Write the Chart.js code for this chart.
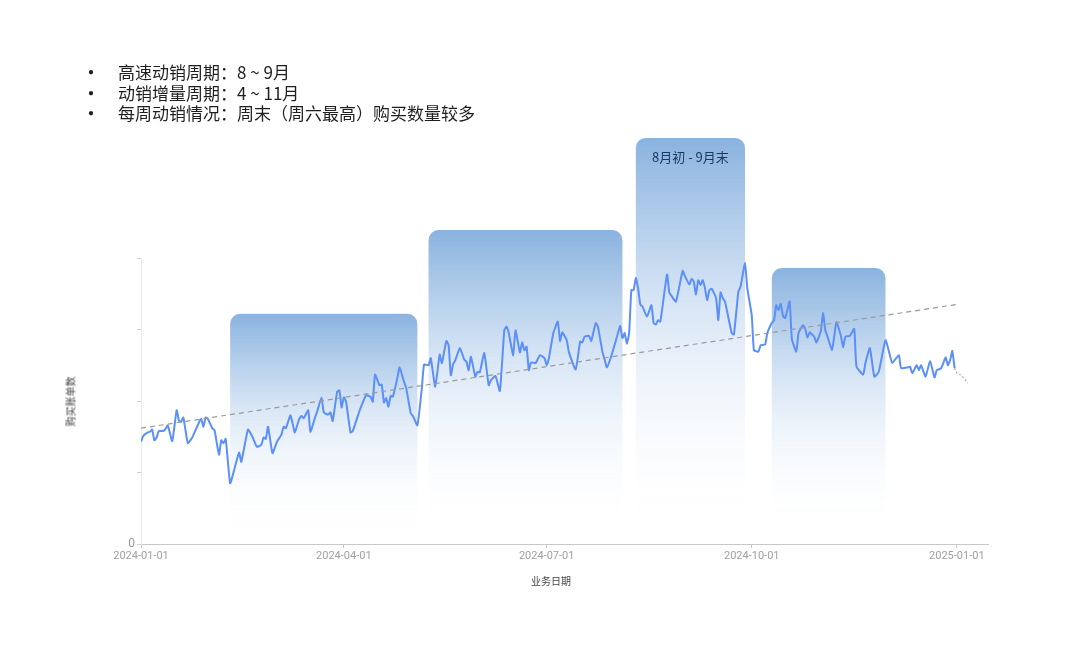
<!DOCTYPE html>
<html>
<head>
<meta charset="utf-8">
<script src="https://cdn.jsdelivr.net/npm/chart.js@4.4.1/dist/chart.umd.min.js"></script>
<style>
  body { margin: 0; background: #fff; font-family: "Noto Sans CJK SC", "Noto Sans", sans-serif; }
  #wrap { position: relative; width: 1080px; height: 653px; }
  .note { position: absolute; font-size: 17px; line-height: 20px; color: #1f1f1f; white-space: nowrap; }
  .dot { position: absolute; left: 81px; font-size: 20px; line-height: 20px; color: #1f1f1f; }
  .axis-title { position: absolute; font-size: 10px; color: #444; white-space: nowrap; }
</style>
</head>
<body>
<div id="wrap">
  <canvas id="salesChart"></canvas>
  <span class="dot" style="top:62px">•</span><div class="note" style="left:118px; top:62px">高速动销周期：8 ~ 9月</div>
  <span class="dot" style="top:83px">•</span><div class="note" style="left:118px; top:83px">动销增量周期：4 ~ 11月</div>
  <span class="dot" style="top:103px">•</span><div class="note" style="left:118px; top:103px">每周动销情况：周末（周六最高）购买数量较多</div>
  <div class="axis-title" style="left:45px; top:394px; transform: rotate(-90deg);">购买账单数</div>
  <div class="axis-title" style="left:531px; top:573px;">业务日期</div>
</div>
<script>
// ---- data (x = days since 2024-01-01) ----
const dayIdx = [0,1,3,4,5,6,7,8,10,11,12,14,16,17,18,19,21,23,26,27,28,29,30,32,33,35,36,37,38,40,42,44,45,48,50,52,54,55,56,57,59,61,63,64,65,67,68,69,71,72,73,75,76,78,79,81,82,84,85,86,88,89,90,91,92,94,95,98,99,101,103,104,105,107,108,109,110,111,112,113,115,116,118,119,121,122,124,126,127,129,130,132,134,135,137,138,139,140,141,143,144,145,146,147,148,150,151,152,154,156,157,159,161,163,164,165,167,168,170,171,172,173,174,175,177,179,181,182,183,185,187,188,189,191,192,195,197,198,199,201,202,204,205,207,208,209,211,214,215,216,217,218,219,220,221,222,223,224,225,227,229,230,231,232,233,236,237,238,240,243,244,246,247,248,249,250,251,252,253,254,255,256,258,259,260,261,262,265,266,268,269,271,272,274,275,277,278,280,281,283,284,285,286,287,288,289,291,292,294,295,297,298,299,300,302,303,305,306,307,308,310,311,312,314,315,316,318,320,321,324,325,327,329,331,334,336,337,340,341,344,345,346,348,349,350,352,354,356,357,359,361,362,363,364,365];
const buyCount = [143,151,156,157,160,145,149,158,158,161,166,144,187,173,171,177,141,149,170,175,164,177,175,162,159,125,145,141,147,85,106,128,115,160,150,136,139,149,147,164,127,143,153,164,162,180,169,156,175,179,176,187,157,176,185,205,184,181,184,172,213,215,191,205,199,156,158,186,194,208,206,199,237,222,223,198,204,192,207,206,232,247,227,218,183,179,166,218,251,250,260,220,265,253,284,278,236,251,257,274,267,258,255,243,262,234,241,240,267,222,229,235,214,299,304,295,264,299,268,282,271,276,243,254,253,264,260,250,260,295,311,284,296,285,268,244,283,282,290,291,284,309,304,269,258,247,263,295,305,288,295,280,295,355,355,372,358,335,332,318,334,309,307,313,311,377,352,347,339,382,375,363,371,367,349,369,362,369,358,341,355,357,344,313,352,344,339,295,293,353,360,393,358,320,271,269,278,279,295,309,313,334,327,336,319,316,339,287,269,295,306,301,289,296,290,282,298,323,299,290,271,290,311,291,275,290,291,301,248,237,253,274,234,241,285,264,253,264,246,247,248,239,250,243,250,234,256,233,243,246,261,250,257,270,246];
// unfinished days after year end (dashed)
const tailDays = [365,366,368,371];
const tailCount = [246,239,236,225];
// trend line
const trendDays = [0,366];
const trendCount = [162,335];
// highlighted periods
const periodStart = [40,129,222,283];
const periodEnd = [124,216,271,334];
const periodTop = [322,439,568,386];
const periodLabel = ['','','8月初 - 9月末',''];
// axis ticks
const tickDays = [0,91,182,274,366];
const tickLabels = ['2024-01-01','2024-04-01','2024-07-01','2024-10-01','2025-01-01'];
const yTicks = [0,100,200,300,400];

const toPoints = (xs, ys) => xs.map((d, i) => ({ x: d, y: ys[i] }));

// gradient boxes behind the line
const periodPlugin = {
  id: 'periodBoxes',
  beforeDatasetsDraw(chart) {
    const { ctx, scales: { x, y } } = chart;
    const bottom = y.getPixelForValue(20);
    periodStart.forEach((s, i) => {
      const l = x.getPixelForValue(s);
      const r = x.getPixelForValue(periodEnd[i]);
      const t = y.getPixelForValue(periodTop[i]);
      const g = ctx.createLinearGradient(0, t, 0, bottom);
      g.addColorStop(0, 'rgba(138,179,223,1)');
      g.addColorStop(0.4, 'rgba(207,224,243,0.9)');
      g.addColorStop(1, 'rgba(255,255,255,0)');
      ctx.save();
      ctx.fillStyle = g;
      ctx.beginPath();
      ctx.roundRect(l, t, r - l, bottom - t, [10, 10, 0, 0]);
      ctx.fill();
      if (periodLabel[i]) {
        ctx.fillStyle = '#1c3763';
        ctx.font = '13px "Noto Sans CJK SC", sans-serif';
        ctx.textAlign = 'center';
        ctx.textBaseline = 'middle';
        ctx.fillText(periodLabel[i], (l + r) / 2, t + 19);
      }
      ctx.restore();
    });
  }
};

const ctx = document.getElementById('salesChart');
new Chart(ctx, {
  type: 'line',
  data: {
    datasets: [
      {
        data: toPoints(trendDays, trendCount),
        borderColor: '#9a9a9a',
        borderWidth: 1.2,
        borderDash: [5, 4],
        pointRadius: 0,
      },
      {
        data: toPoints(dayIdx, buyCount),
        borderColor: '#5b8ff9',
        borderWidth: 2,
        pointRadius: 0,
        tension: 0.15,
      },
      {
        data: toPoints(tailDays, tailCount),
        borderColor: 'rgba(120,140,180,0.7)',
        borderWidth: 1.2,
        borderDash: [2, 2],
        pointRadius: 0,
      },
    ],
  },
  options: {
    responsive: true,
    maintainAspectRatio: false,
    animation: false,
    layout: { padding: { top: 258, right: 92, bottom: 79, left: 0 } },
    plugins: { legend: { display: false }, tooltip: { enabled: false } },
    scales: {
      x: {
        type: 'linear',
        min: 0,
        max: 380,
        afterBuildTicks: (scale) => { scale.ticks = tickDays.map((v) => ({ value: v })); },
        afterFit: (scale) => { scale.height = 30; },
        ticks: {
          autoSkip: false,
          maxRotation: 0,
          padding: 2,
          color: '#a0a0a0',
          font: { size: 11, family: 'Roboto, sans-serif' },
          callback: (v, i) => tickLabels[i],
        },
        grid: { drawOnChartArea: false, drawTicks: true, tickLength: 4, color: '#c8c8c8' },
        border: { color: '#c8c8c8' },
      },
      y: {
        min: 0,
        max: 400,
        afterBuildTicks: (scale) => { scale.ticks = yTicks.map((v) => ({ value: v })); },
        afterFit: (scale) => { scale.width = 141; },
        ticks: {
          padding: 2,
          color: '#999',
          font: { size: 12, family: 'Roboto, sans-serif' },
          callback: (v) => (v === 0 ? '0' : ''),
        },
        grid: { drawOnChartArea: false, drawTicks: true, tickLength: 4, color: '#d0d0d0' },
        border: { color: '#ececec' },
      },
    },
  },
  plugins: [periodPlugin],
});
</script>
</body>
</html>
